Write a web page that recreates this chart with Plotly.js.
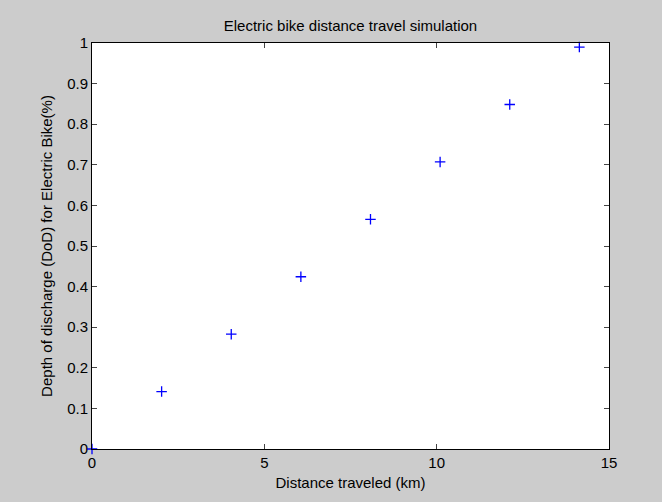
<!DOCTYPE html>
<html>
<head>
<meta charset="utf-8">
<script src="https://cdn.plot.ly/plotly-3.0.1.min.js"></script>
<style>
html,body{margin:0;padding:0;background:#cccccc;}
#chart{width:662px;height:502px;}
</style>
</head>
<body>
<div id="chart"></div>
<script>
const distanceKm = [0, 2.02, 4.04, 6.06, 8.08, 10.10, 12.12, 14.14];
const depthOfDischarge = [0, 0.1414, 0.2828, 0.4243, 0.5657, 0.7071, 0.8485, 0.9899];
const xTickVals = [0, 5, 10, 15];
const yTickVals = [0, 0.1, 0.2, 0.3, 0.4, 0.5, 0.6, 0.7, 0.8, 0.9, 1];
const yTickText = ['0', '0.1', '0.2', '0.3', '0.4', '0.5', '0.6', '0.7', '0.8', '0.9', '1'];

const fontFam = 'Liberation Sans, Arial, sans-serif';

const trace = {
  x: distanceKm,
  y: depthOfDischarge,
  type: 'scatter',
  mode: 'markers',
  cliponaxis: false,
  marker: {symbol: 'cross-thin-open', size: 7.5, color: '#0000ff', line: {color: '#0000ff', width: 1.3}},
  hoverinfo: 'x+y'
};

const layout = {
  width: 662, height: 502,
  paper_bgcolor: '#cccccc',
  plot_bgcolor: '#ffffff',
  margin: {l: 92, r: 53, t: 43, b: 53},
  showlegend: false,
  title: {text: 'Electric bike distance travel simulation', font: {family: fontFam, size: 15, color: '#000'}, xref: 'paper', x: 0.5, xanchor: 'center', yref: 'container', y: 0.948, yanchor: 'middle'},
  xaxis: {
    range: [0, 15], tickvals: xTickVals, ticktext: xTickVals.map(String),
    showgrid: false, zeroline: false, showline: true, linecolor: '#000', linewidth: 1,
    mirror: 'ticks', ticks: 'inside', ticklen: 5, tickcolor: '#444', tickwidth: 1,
    tickfont: {family: fontFam, size: 15, color: '#000'},
    title: {text: 'Distance traveled (km)', font: {family: fontFam, size: 15, color: '#000'}, standoff: 7},
    automargin: false
  },
  yaxis: {
    range: [0, 1], tickvals: yTickVals, ticktext: yTickText,
    showgrid: false, zeroline: false, showline: true, linecolor: '#000', linewidth: 1,
    mirror: 'ticks', ticks: 'inside', ticklen: 5, tickcolor: '#444', tickwidth: 1,
    tickfont: {family: fontFam, size: 15, color: '#000'},
    title: {text: 'Depth of discharge (DoD) for Electric Bike(%)', font: {family: fontFam, size: 15, color: '#000'}, standoff: 10},
    automargin: false
  }
};

Plotly.newPlot('chart', [trace], layout, {displayModeBar: false, staticPlot: true});
</script>
</body>
</html>
